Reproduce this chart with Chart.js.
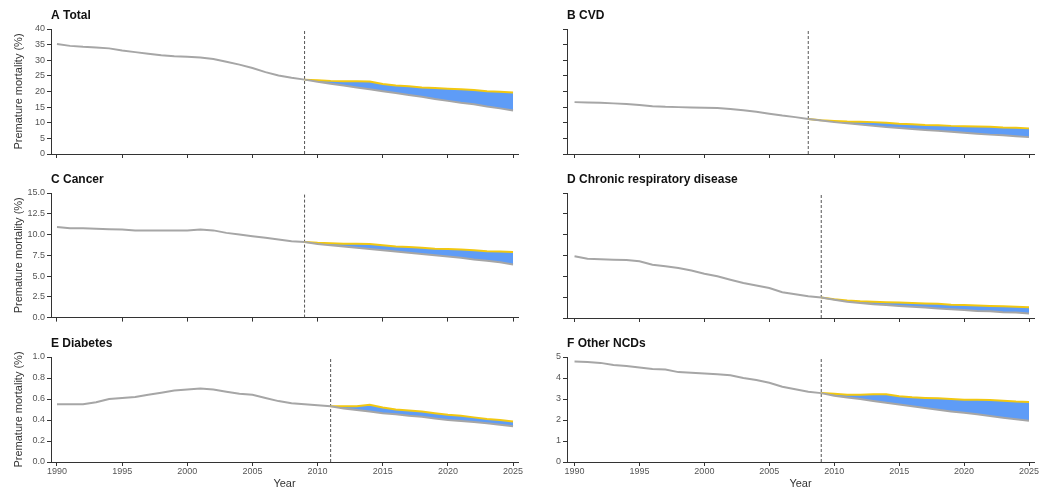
<!DOCTYPE html>
<html>
<head>
<meta charset="utf-8">
<script src="https://cdn.jsdelivr.net/npm/chart.js@4.4.0/dist/chart.umd.min.js"></script>
<style>
  body { margin: 0; background: #fff; width: 1051px; height: 491px; position: relative; overflow: hidden; }
  canvas { position: absolute; }
</style>
</head>
<body>
<canvas id="cA" width="530" height="162" style="left:0;top:0"></canvas>
<canvas id="cB" width="521" height="162" style="left:530px;top:0"></canvas>
<canvas id="cC" width="530" height="163" style="left:0;top:162px"></canvas>
<canvas id="cD" width="521" height="163" style="left:530px;top:162px"></canvas>
<canvas id="cE" width="530" height="166" style="left:0;top:325px"></canvas>
<canvas id="cF" width="521" height="166" style="left:530px;top:325px"></canvas>
<script>
// data (history from 1990, projections from the base year)
const xTicks = [1990, 1995, 2000, 2005, 2010, 2015, 2020, 2025];
const panelTitles = ['A Total', 'B CVD', 'C Cancer', 'D Chronic respiratory disease', 'E Diabetes', 'F Other NCDs'];
const baseYears = [2009, 2008, 2009, 2009, 2011, 2009];

const yTicksTotal = [0, 5, 10, 15, 20, 25, 30, 35, 40];
const yTicksCancer = [0, 2.5, 5, 7.5, 10, 12.5, 15];
const yTicksDiabetes = [0, 0.2, 0.4, 0.6, 0.8, 1.0];
const yTicksOther = [0, 1, 2, 3, 4, 5];

const totalHist = [35.2, 34.6, 34.3, 34.1, 33.8, 33.1, 32.6, 32.1, 31.6, 31.3, 31.1, 30.9, 30.4, 29.5, 28.6, 27.5, 26.2, 25.1, 24.4, 23.8];
const totalUpper = [23.8, 23.6, 23.4, 23.3, 23.3, 23.2, 22.4, 21.9, 21.7, 21.3, 21.1, 20.9, 20.7, 20.5, 20.1, 19.9, 19.7];
const totalLower = [23.8, 23.1, 22.5, 21.9, 21.3, 20.7, 20.1, 19.5, 18.9, 18.3, 17.6, 17.0, 16.4, 15.9, 15.2, 14.6, 13.9];

const cvdHist = [16.6, 16.5, 16.4, 16.2, 16.0, 15.7, 15.3, 15.1, 15.0, 14.9, 14.8, 14.7, 14.4, 14.0, 13.5, 12.9, 12.3, 11.8, 11.2];
const cvdUpper = [11.2, 10.8, 10.6, 10.4, 10.3, 10.2, 10.0, 9.7, 9.5, 9.3, 9.2, 9.0, 8.9, 8.8, 8.7, 8.5, 8.4, 8.2];
const cvdLower = [11.2, 10.7, 10.2, 9.8, 9.4, 9.0, 8.6, 8.3, 8.0, 7.7, 7.4, 7.1, 6.8, 6.5, 6.2, 6.0, 5.7, 5.4];

const cancerHist = [10.9, 10.75, 10.75, 10.7, 10.65, 10.6, 10.5, 10.5, 10.5, 10.5, 10.5, 10.6, 10.5, 10.2, 10.0, 9.8, 9.6, 9.4, 9.2, 9.1];
const cancerUpper = [9.1, 9.0, 8.95, 8.9, 8.9, 8.85, 8.7, 8.55, 8.5, 8.4, 8.3, 8.25, 8.2, 8.1, 8.0, 7.95, 7.9];
const cancerLower = [9.1, 8.85, 8.7, 8.55, 8.4, 8.25, 8.1, 7.95, 7.8, 7.65, 7.5, 7.35, 7.2, 7.0, 6.85, 6.65, 6.4];

const respHist = [7.4, 7.1, 7.05, 7.0, 6.95, 6.8, 6.4, 6.2, 6.0, 5.7, 5.3, 5.0, 4.6, 4.2, 3.9, 3.6, 3.1, 2.85, 2.6, 2.45];
const respUpper = [2.45, 2.25, 2.1, 2.0, 1.95, 1.9, 1.85, 1.8, 1.75, 1.7, 1.6, 1.55, 1.5, 1.45, 1.4, 1.35, 1.3];
const respLower = [2.45, 2.2, 1.95, 1.8, 1.65, 1.55, 1.45, 1.35, 1.25, 1.15, 1.05, 0.95, 0.85, 0.8, 0.7, 0.65, 0.55];

const diabHist = [0.55, 0.55, 0.55, 0.57, 0.60, 0.61, 0.62, 0.64, 0.66, 0.68, 0.69, 0.70, 0.69, 0.67, 0.65, 0.64, 0.61, 0.58, 0.56, 0.55, 0.54, 0.53];
const diabUpper = [0.53, 0.53, 0.53, 0.545, 0.52, 0.50, 0.49, 0.48, 0.465, 0.45, 0.44, 0.425, 0.41, 0.40, 0.385];
const diabLower = [0.53, 0.51, 0.495, 0.48, 0.465, 0.455, 0.44, 0.43, 0.415, 0.40, 0.39, 0.38, 0.37, 0.355, 0.34];

const otherHist = [4.78, 4.76, 4.72, 4.62, 4.57, 4.50, 4.43, 4.40, 4.28, 4.25, 4.22, 4.18, 4.13, 4.00, 3.90, 3.77, 3.58, 3.46, 3.35, 3.28];
const otherUpper = [3.28, 3.25, 3.2, 3.2, 3.23, 3.23, 3.13, 3.08, 3.05, 3.03, 3.0, 2.97, 2.96, 2.95, 2.92, 2.88, 2.86];
const otherLower = [3.28, 3.16, 3.07, 3.0, 2.91, 2.82, 2.74, 2.66, 2.57, 2.49, 2.41, 2.34, 2.27, 2.19, 2.11, 2.04, 1.96];

const GREY = '#a6a6a6';
const YELLOW = '#f2c811';
const BLUE = '#5e9cf7';
const AXIS = '#333';

Chart.defaults.font.family = '"Liberation Sans", Arial, sans-serif';

const panelTitle = {
  id: 'panelTitle',
  afterDraw(chart, args, opts) {
    const ctx = chart.ctx;
    ctx.save();
    ctx.font = 'bold 12px "Liberation Sans", Arial, sans-serif';
    ctx.fillStyle = '#111';
    ctx.textBaseline = 'middle';
    ctx.fillText(opts.text, chart.chartArea.left, chart.chartArea.top - 13);
    ctx.restore();
  }
};

function toPoints(start, values) {
  return values.map((v, i) => ({ x: start + i, y: v }));
}

function makePanel(id, p) {
  const yMax = p.yTicks[p.yTicks.length - 1];
  const left = p.col === 0;
  const line = { pointRadius: 0, tension: 0, fill: false };
  return new Chart(document.getElementById(id), {
    type: 'line',
    data: {
      datasets: [
        Object.assign({ data: toPoints(p.base, p.lower), borderColor: GREY, borderWidth: 2 }, line),
        Object.assign({}, line, { data: toPoints(p.base, p.upper), borderColor: YELLOW, borderWidth: 2, backgroundColor: BLUE, fill: '-1' }),
        Object.assign({ data: toPoints(1990, p.hist), borderColor: GREY, borderWidth: 2 }, line),
        Object.assign({ data: [{ x: p.base, y: 0 }, { x: p.base, y: yMax }], borderColor: '#555', borderWidth: 1, borderDash: [3, 2] }, line)
      ]
    },
    options: {
      animation: false,
      responsive: false,
      events: [],
      layout: { padding: { top: p.padTop, right: left ? 12 : 17, left: 0, bottom: 0 } },
      plugins: { legend: { display: false }, tooltip: { enabled: false }, panelTitle: { text: p.title } },
      scales: {
        x: {
          type: 'linear',
          min: left ? 1989.54 : 1989.42,
          max: left ? 2025.38 : 2025.385,
          afterBuildTicks: s => { s.ticks = xTicks.map(v => ({ value: v })); },
          afterFit: s => { s.height = p.xHeight; },
          grid: { drawOnChartArea: false, tickLength: 4, color: AXIS },
          border: { color: AXIS },
          ticks: { display: p.xLabels, font: { size: 9 }, color: '#555', padding: 0, maxRotation: 0, autoSkip: false, callback: v => String(v) },
          title: { display: p.xLabels, text: 'Year', font: { size: 11 }, color: '#333', padding: 0 }
        },
        y: {
          min: 0,
          max: yMax,
          afterBuildTicks: s => { s.ticks = p.yTicks.map(v => ({ value: v })); },
          afterFit: s => { s.width = left ? 51 : 37; },
          grid: { drawOnChartArea: false, tickLength: 4, color: AXIS },
          border: { color: AXIS },
          ticks: { display: p.yLabels, font: { size: 9 }, color: '#555', padding: 2, callback: v => v.toFixed(p.dec) },
          title: { display: left, text: 'Premature mortality (%)', font: { size: 11 }, color: '#333', padding: { top: 12, bottom: 0 } }
        }
      }
    },
    plugins: [panelTitle]
  });
}

makePanel('cA', { col: 0, title: panelTitles[0], base: baseYears[0], hist: totalHist, upper: totalUpper, lower: totalLower,
  yTicks: yTicksTotal, dec: 0, yLabels: true, xLabels: false, padTop: 29, xHeight: 8 });
makePanel('cB', { col: 1, title: panelTitles[1], base: baseYears[1], hist: cvdHist, upper: cvdUpper, lower: cvdLower,
  yTicks: yTicksTotal, dec: 0, yLabels: false, xLabels: false, padTop: 29, xHeight: 8 });
makePanel('cC', { col: 0, title: panelTitles[2], base: baseYears[2], hist: cancerHist, upper: cancerUpper, lower: cancerLower,
  yTicks: yTicksCancer, dec: 1, yLabels: true, xLabels: false, padTop: 31, xHeight: 7 });
makePanel('cD', { col: 1, title: panelTitles[3], base: baseYears[3], hist: respHist, upper: respUpper, lower: respLower,
  yTicks: yTicksCancer, dec: 1, yLabels: false, xLabels: false, padTop: 31, xHeight: 7 });
makePanel('cE', { col: 0, title: panelTitles[4], base: baseYears[4], hist: diabHist, upper: diabUpper, lower: diabLower,
  yTicks: yTicksDiabetes, dec: 1, yLabels: true, xLabels: true, padTop: 32, xHeight: 29 });
makePanel('cF', { col: 1, title: panelTitles[5], base: baseYears[5], hist: otherHist, upper: otherUpper, lower: otherLower,
  yTicks: yTicksOther, dec: 0, yLabels: true, xLabels: true, padTop: 32, xHeight: 29 });
</script>
</body>
</html>
